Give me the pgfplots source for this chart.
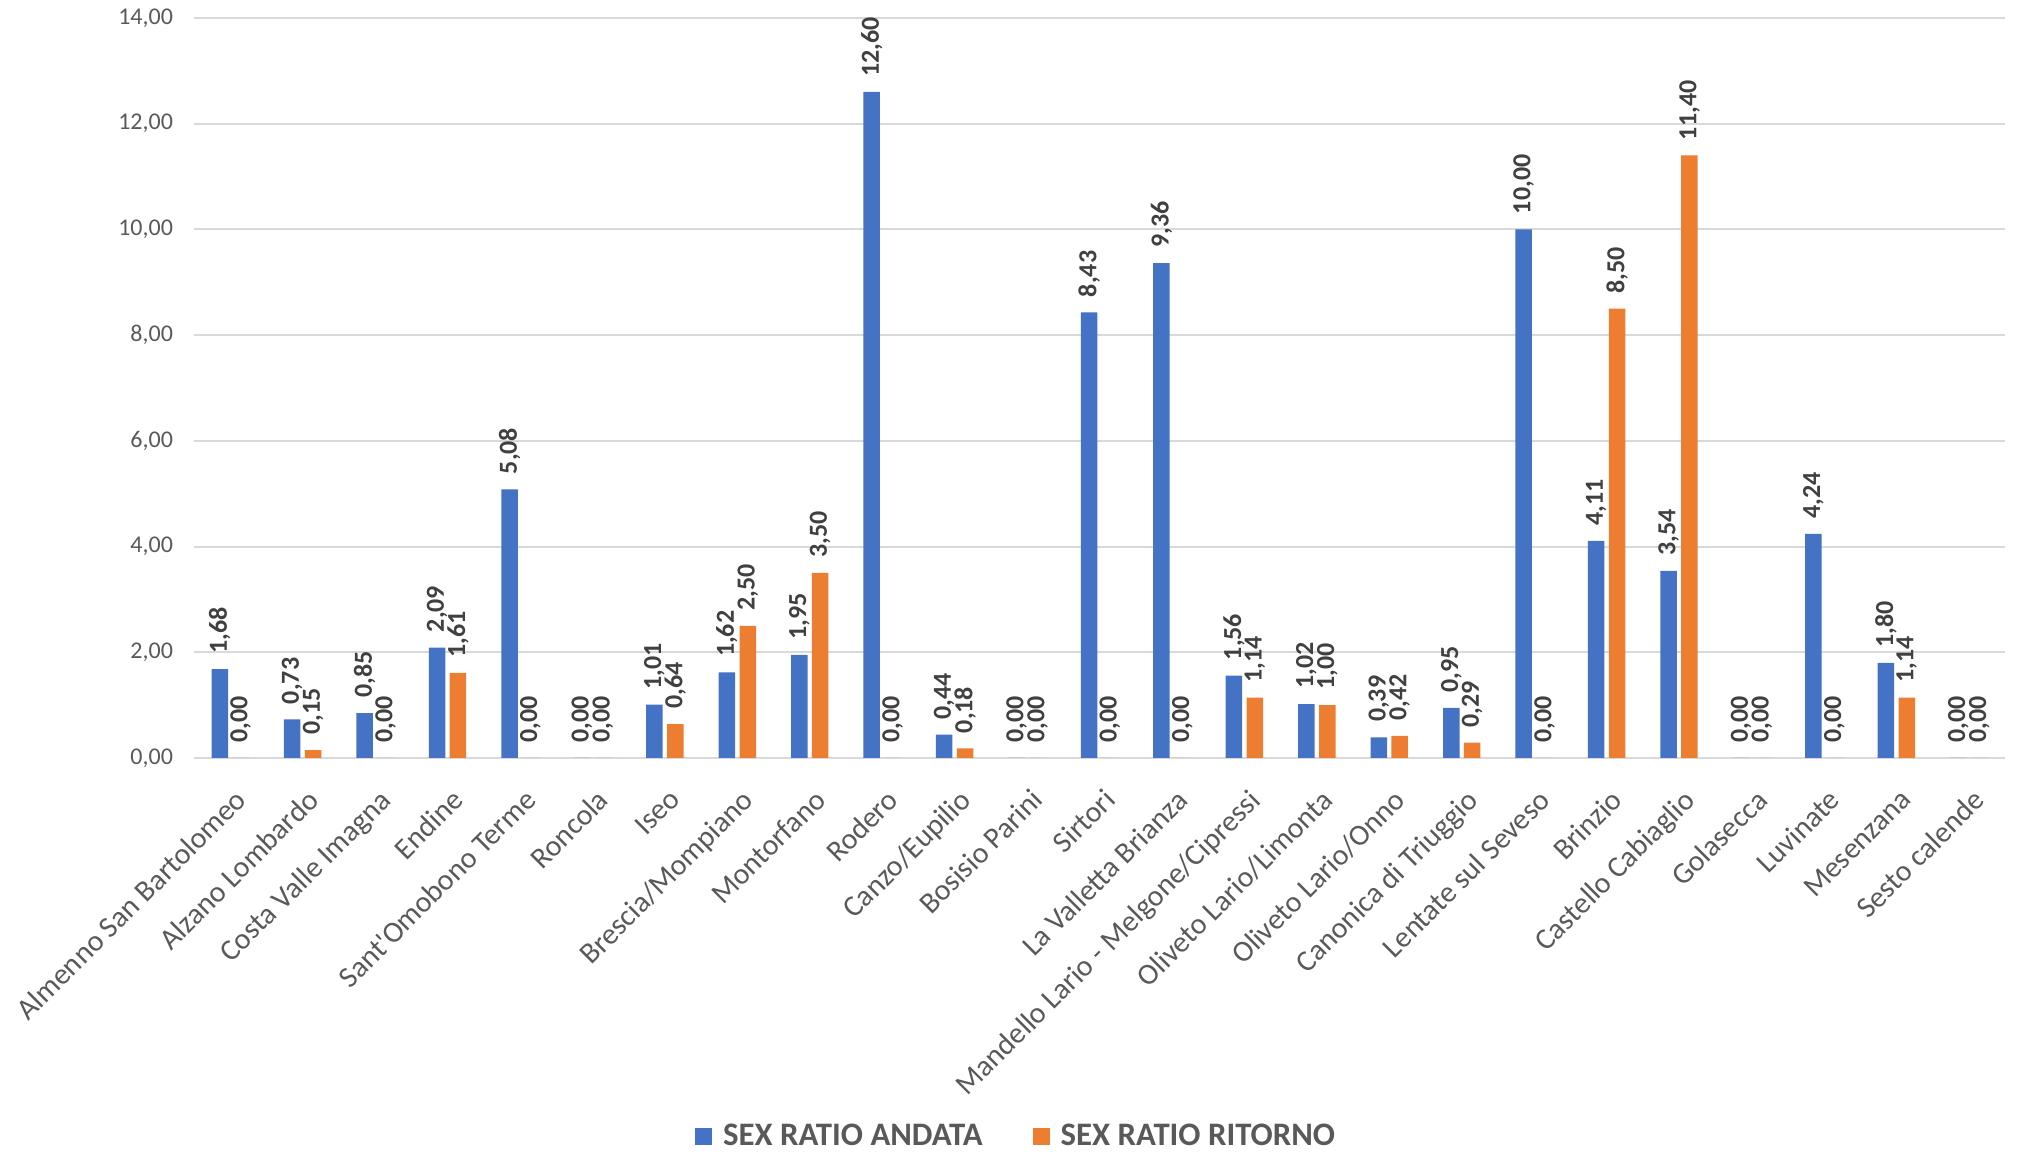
\documentclass[border=0pt]{standalone}
\usepackage{pgfplots}
\pgfplotsset{compat=1.18}
\usepackage{fontspec}
\setmainfont{Carlito}
\newfontfamily\carl{Carlito}
\definecolor{sblue}{HTML}{4472C4}
\definecolor{sorange}{HTML}{ED7D31}
\definecolor{gridc}{HTML}{D9D9D9}
\definecolor{txt}{HTML}{595959}
\definecolor{lbl}{HTML}{404040}
\begin{document}
\begin{tikzpicture}
\path[use as bounding box] (-97pt,-198pt) rectangle (915pt,379pt);
\begin{axis}[
  at={(0,0)}, anchor=south west,
  scale only axis, width=905.5pt, height=370pt,
  ybar=2.2pt, bar width=8.25pt,
  xmin=-0.5, xmax=24.5, ymin=0, ymax=14,
  ytick={0,2,...,14},
  xtick={0,...,24},
  xticklabels={Almenno San Bartolomeo,Alzano Lombardo,Costa Valle Imagna,Endine,{Sant{\carl'}Omobono Terme},Roncola,Iseo,Brescia/Mompiano,Montorfano,Rodero,Canzo/Eupilio,Bosisio Parini,Sirtori,La Valletta Brianza,Mandello Lario - Melgone/Cipressi,Oliveto Lario/Limonta,Oliveto Lario/Onno,Canonica di Triuggio,Lentate sul Seveso,Brinzio,Castello Cabiaglio,Golasecca,Luvinate,Mesenzana,Sesto calende},
  major tick length=0pt,
  axis line style={draw=none},
  ymajorgrids, grid style={gridc, line width=1pt},
  /pgf/number format/assume math mode=true,
  yticklabel={\pgfmathprintnumber[fixed,fixed zerofill,precision=2,use comma,assume math mode=true]{\tick}},
  yticklabel style={font=\fontsize{12}{14}\selectfont, text=txt, xshift=-7pt},
  xticklabel style={font=\fontsize{14.9}{17}\selectfont, text=txt, inner sep=0pt, xshift=1.5pt, yshift=-14.5pt, rotate=45, anchor=north east},
  nodes near coords={\pgfmathprintnumber[fixed,fixed zerofill,precision=2,use comma,assume math mode=true]{\pgfplotspointmeta}},
  every node near coord/.append style={rotate=90, anchor=west, font=\bfseries\fontsize{13}{15}\selectfont, text=lbl, inner xsep=7.5pt, inner ysep=0pt},
  legend style={draw=none, at={(0.4545,-0.511)}, anchor=center, legend columns=2,
    font=\bfseries\fontsize{16.4}{19}\selectfont, text=txt,
    /tikz/every odd column/.append style={column sep=3.5pt},
    /tikz/every even column/.append style={column sep=23pt}},
]
\addplot[fill=sblue, draw=none, legend image code/.code={\path[fill=sblue] (0pt,-4.25pt) rectangle (8.5pt,4.25pt);}] coordinates {
(0,1.68) (1,0.73) (2,0.85) (3,2.09) (4,5.08) (5,0) (6,1.01) (7,1.62) (8,1.95) (9,12.60)
(10,0.44) (11,0) (12,8.43) (13,9.36) (14,1.56) (15,1.02) (16,0.39) (17,0.95) (18,10.00) (19,4.11)
(20,3.54) (21,0) (22,4.24) (23,1.80) (24,0)};
\addlegendentry{SEX RATIO ANDATA}
\addplot[fill=sorange, draw=none, legend image code/.code={\path[fill=sorange] (0pt,-4.25pt) rectangle (8.5pt,4.25pt);}] coordinates {
(0,0) (1,0.15) (2,0) (3,1.61) (4,0) (5,0) (6,0.64) (7,2.50) (8,3.50) (9,0)
(10,0.18) (11,0) (12,0) (13,0) (14,1.14) (15,1.00) (16,0.42) (17,0.29) (18,0) (19,8.50)
(20,11.40) (21,0) (22,0) (23,1.14) (24,0)};
\addlegendentry{SEX RATIO RITORNO}
\end{axis}
\end{tikzpicture}
\end{document}
